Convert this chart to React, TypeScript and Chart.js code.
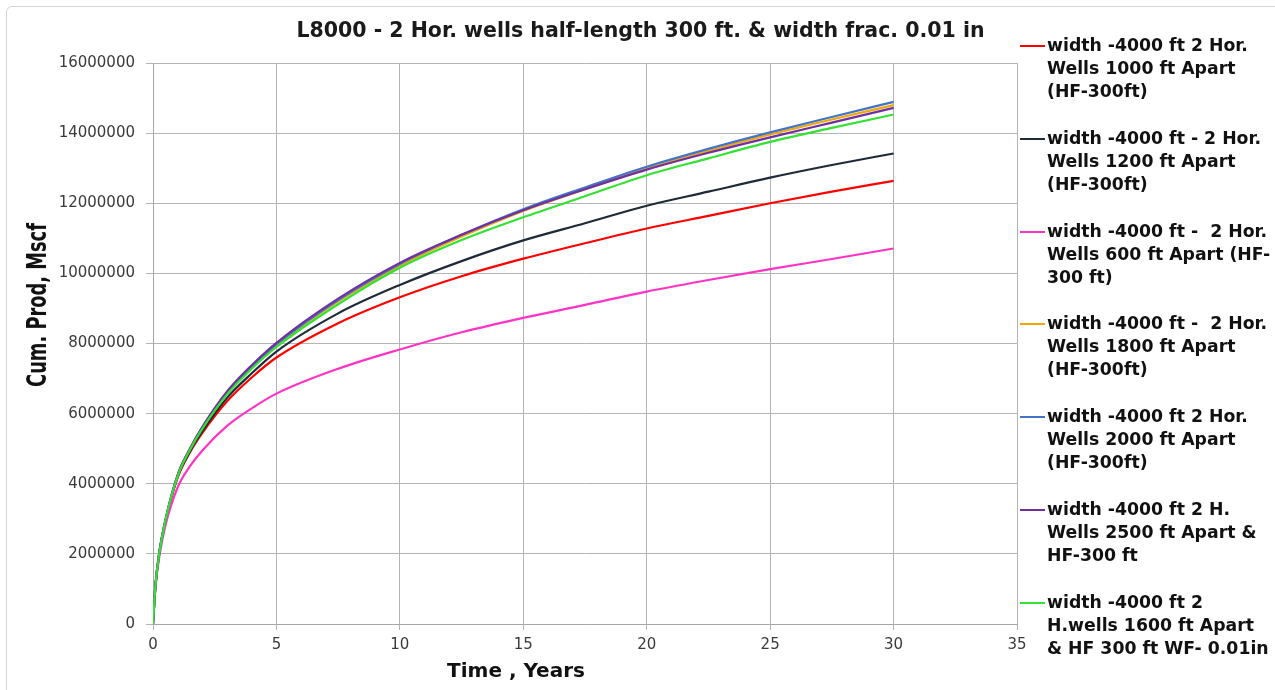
import React, { useEffect, useRef } from 'react';
import { Chart, registerables } from 'chart.js';

Chart.register(...registerables);
Chart.defaults.font.family = '"DejaVu Sans", sans-serif';
Chart.defaults.font.size = 15;

// Time, years
const years = [0, 0.1, 0.25, 0.5, 1, 1.5, 2, 3, 4, 5, 7.5, 10, 12.5, 15, 17.5, 20, 22.5, 25, 27.5, 30];

// Cumulative production, Mscf
const wells1000 = [0, 1100000, 2000000, 2920000, 4180000, 4900000, 5450000, 6350000, 7030000, 7600000, 8580000, 9320000, 9920000, 10420000, 10860000, 11280000, 11640000, 12000000, 12330000, 12640000];
const wells1200 = [0, 1100000, 2000000, 2930000, 4200000, 4930000, 5500000, 6450000, 7150000, 7770000, 8860000, 9670000, 10350000, 10940000, 11430000, 11930000, 12330000, 12730000, 13090000, 13420000];
const wells600 = [0, 1050000, 1900000, 2800000, 3900000, 4500000, 4950000, 5650000, 6150000, 6570000, 7280000, 7830000, 8320000, 8730000, 9100000, 9480000, 9810000, 10120000, 10410000, 10710000];
const wells1800 = [0, 1100000, 2000000, 2950000, 4250000, 5000000, 5600000, 6600000, 7330000, 7950000, 9200000, 10220000, 11050000, 11780000, 12400000, 12980000, 13490000, 13960000, 14390000, 14800000];
const wells2000 = [0, 1100000, 2000000, 2950000, 4250000, 5000000, 5600000, 6600000, 7350000, 7980000, 9240000, 10270000, 11100000, 11830000, 12450000, 13040000, 13550000, 14020000, 14460000, 14890000];
const wells2500 = [0, 1100000, 2000000, 2950000, 4250000, 5000000, 5620000, 6630000, 7380000, 8020000, 9280000, 10300000, 11100000, 11800000, 12400000, 12960000, 13440000, 13880000, 14300000, 14720000];
const wells1600 = [0, 1100000, 2000000, 2950000, 4220000, 4970000, 5570000, 6550000, 7280000, 7900000, 9120000, 10160000, 10950000, 11600000, 12200000, 12800000, 13280000, 13750000, 14150000, 14530000];

const seriesLabels = [
  ['width -4000 ft 2 Hor.', 'Wells 1000 ft Apart', '(HF-300ft)'],
  ['width -4000 ft - 2 Hor.', 'Wells 1200 ft Apart', '(HF-300ft)'],
  ['width -4000 ft -  2 Hor.', 'Wells 600 ft Apart (HF-', '300 ft)'],
  ['width -4000 ft -  2 Hor.', 'Wells 1800 ft Apart', '(HF-300ft)'],
  ['width -4000 ft 2 Hor.', 'Wells 2000 ft Apart', '(HF-300ft)'],
  ['width -4000 ft 2 H.', 'Wells 2500 ft Apart &', 'HF-300 ft'],
  ['width -4000 ft 2', 'H.wells 1600 ft Apart', '& HF 300 ft WF- 0.01in'],
];
const seriesValues = [wells1000, wells1200, wells600, wells1800, wells2000, wells2500, wells1600];
const seriesColors = ['#ff0000', '#1f2a38', '#ff33c4', '#f0a800', '#4472c4', '#7030a0', '#33e033'];
const seriesOrder = [6, 5, 4, 3, 2, 1, 0];

const xTicks = [0, 5, 10, 15, 20, 25, 30, 35];
const yTicks = [0, 2000000, 4000000, 6000000, 8000000, 10000000, 12000000, 14000000, 16000000];

const chartTitle = 'L8000 - 2 Hor. wells half-length 300 ft. & width frac. 0.01 in';
const xTitle = 'Time , Years';
const yTitle = 'Cum. Prod, Mscf';

const tickFont = { family: '"DejaVu Sans", sans-serif', size: 15, weight: 'normal' as const };

export default function App() {
  const ref = useRef<HTMLCanvasElement>(null);

  useEffect(() => {
    document.body.style.margin = '0';
    const canvas = ref.current;
    if (!canvas) return;
    const chart = new Chart(canvas, {
      type: 'line',
      data: {
        datasets: seriesValues.map((vals, i) => ({
          label: seriesLabels[i].join(' '),
          data: years.map((x, j) => ({ x, y: vals[j] })),
          borderColor: seriesColors[i],
          backgroundColor: seriesColors[i],
          borderWidth: 2.2,
          pointRadius: 0,
          fill: false,
          cubicInterpolationMode: 'monotone' as const,
          order: seriesOrder[i],
        })),
      },
      options: {
        responsive: false,
        animation: false,
        events: [],
        layout: { padding: { left: 0, top: 63, right: 258, bottom: 0 } },
        plugins: {
          legend: { display: false },
          title: { display: false },
          tooltip: { enabled: false },
        },
        scales: {
          x: {
            type: 'linear',
            min: xTicks[0],
            max: xTicks[xTicks.length - 1],
            afterBuildTicks: (s: any) => {
              s.ticks = xTicks.map((v) => ({ value: v }));
            },
            ticks: {
              color: '#3a3a3a',
              font: tickFont,
              padding: 6,
              maxRotation: 0,
              callback: (v: any) => String(v),
            },
            grid: { color: '#b4b4b4', lineWidth: 1, tickLength: 6 },
            border: { color: '#a6a6a6' },
            afterFit: (s: any) => {
              s.height = 66;
            },
          },
          y: {
            type: 'linear',
            min: yTicks[0],
            max: yTicks[yTicks.length - 1],
            afterBuildTicks: (s: any) => {
              s.ticks = yTicks.map((v) => ({ value: v }));
            },
            ticks: {
              color: '#3a3a3a',
              font: tickFont,
              padding: 11,
              callback: (v: any) => String(v),
            },
            grid: { color: '#b4b4b4', lineWidth: 1, tickLength: 7 },
            border: { color: '#a6a6a6' },
            afterFit: (s: any) => {
              s.width = 153;
            },
          },
        },
      },
    });
    return () => chart.destroy();
  }, []);

  const legendTop = 34;
  const legendStep = 92.8;

  return (
    <div style={{ position: 'fixed', left: 0, top: 0, width: 1275, height: 690, background: '#ffffff', overflow: 'hidden' }}>
      <div
        style={{
          position: 'absolute',
          left: 6,
          top: 6,
          width: 1400,
          height: 800,
          border: '1px solid #d4d4d4',
          borderRadius: 6,
        }}
      />
      <canvas ref={ref} width={1275} height={690} style={{ position: 'absolute', left: 0, top: 0 }} />
      <div
        style={{
          position: 'absolute',
          left: 0,
          width: 1281,
          top: 17,
          textAlign: 'center',
          fontFamily: '"DejaVu Sans", sans-serif',
          fontWeight: 'bold',
          fontSize: 20.5,
          lineHeight: '26px',
          color: '#1a1a1a',
          whiteSpace: 'pre',
        }}
      >
        {chartTitle}
      </div>
      <div
        style={{
          position: 'absolute',
          left: 316,
          width: 400,
          top: 657,
          textAlign: 'center',
          fontFamily: '"DejaVu Sans", sans-serif',
          fontWeight: 'bold',
          fontSize: 20,
          lineHeight: '26px',
          color: '#111111',
          whiteSpace: 'pre',
        }}
      >
        {xTitle}
      </div>
      <div
        style={{
          position: 'absolute',
          left: 37 - 150,
          top: 305 - 18,
          width: 300,
          height: 36,
          lineHeight: '36px',
          textAlign: 'center',
          transform: 'rotate(-90deg) scaleX(0.66)',
          fontFamily: '"DejaVu Sans", sans-serif',
          fontWeight: 'bold',
          fontSize: 27,
          color: '#111111',
          whiteSpace: 'pre',
        }}
      >
        {yTitle}
      </div>
      {seriesLabels.map((lines, i) => (
        <div key={i} style={{ position: 'absolute', left: 1020, top: legendTop + i * legendStep }}>
          <div
            style={{
              position: 'absolute',
              left: 0,
              top: 11,
              width: 25,
              height: 2,
              background: seriesColors[i],
            }}
          />
          <div
            style={{
              position: 'absolute',
              left: 27,
              top: 0,
              fontFamily: '"DejaVu Sans", sans-serif',
              fontWeight: 'bold',
              fontSize: 17.3,
              lineHeight: '23px',
              color: '#111111',
              whiteSpace: 'pre',
            }}
          >
            {lines.join('\n')}
          </div>
        </div>
      ))}
    </div>
  );
}
